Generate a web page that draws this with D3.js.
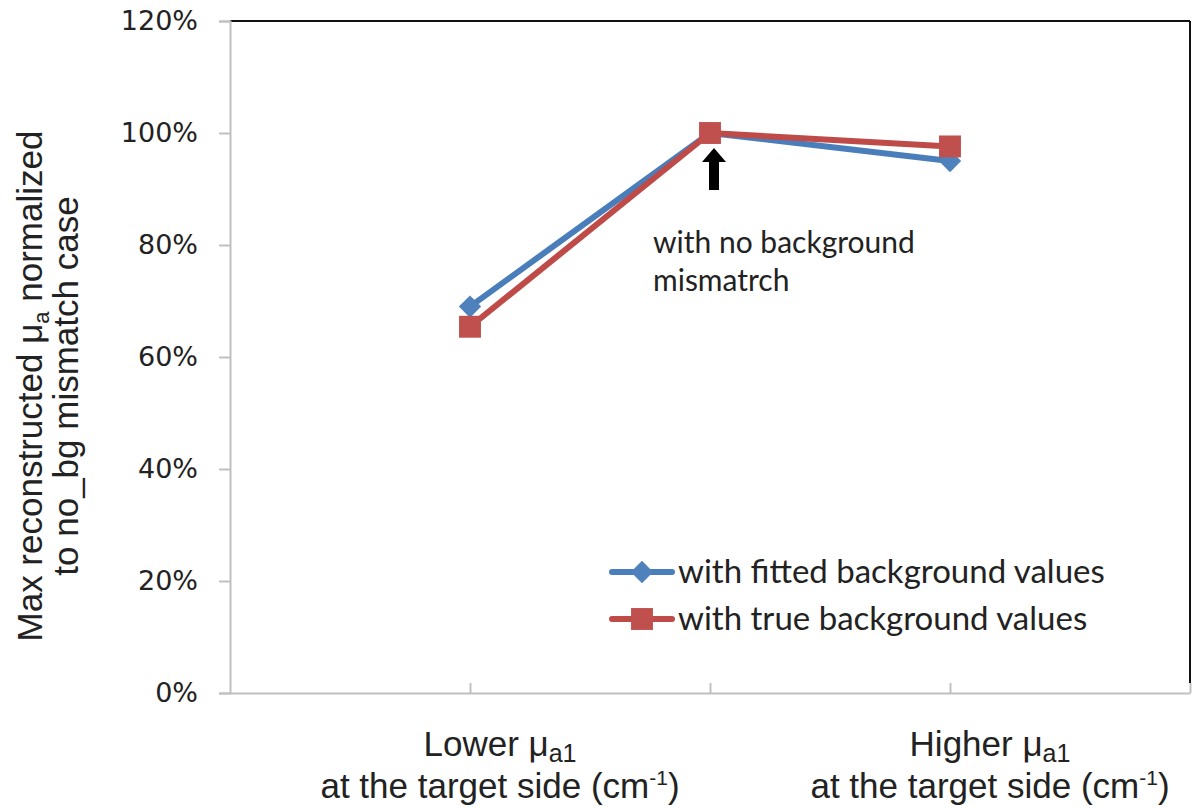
<!DOCTYPE html>
<html>
<head>
<meta charset="utf-8">
<script src="https://cdn.jsdelivr.net/npm/d3@7"></script>
<style>
  html, body { margin: 0; padding: 0; background: #fff; }
  svg { display: block; }
</style>
</head>
<body>
<div id="chart"></div>
<script>
// chart values
var categories = ["Lower", "", "Higher"];
var fitted = [0.69, 1.00, 0.95];
var trueVals = [0.654, 1.00, 0.976];
var seriesNames = ["with fitted background values", "with true background values"];
var yTicks = [0, 0.2, 0.4, 0.6, 0.8, 1.0, 1.2];

var W = 1196, H = 808;
var margin = { top: 21, right: 6, bottom: 115, left: 230 };

var svg = d3.select("#chart").append("svg")
  .attr("width", W).attr("height", H);

var x = d3.scaleLinear().domain([0, categories.length + 1])
  .range([margin.left, W - margin.right]);
var y = d3.scaleLinear().domain([0, 1.2])
  .range([H - margin.bottom, margin.top]);

// frame (top and right are dark)
svg.append("line")
  .attr("x1", x(0)).attr("x2", x(4)).attr("y1", y(1.2)).attr("y2", y(1.2))
  .attr("stroke", "#111").attr("stroke-width", 2);
svg.append("line")
  .attr("x1", x(4)).attr("x2", x(4)).attr("y1", y(1.2)).attr("y2", y(0) - 10)
  .attr("stroke", "#111").attr("stroke-width", 2);

// y axis
var yAxis = svg.append("g")
  .attr("transform", "translate(" + x(0) + ",0)")
  .call(d3.axisLeft(y).tickValues(yTicks).tickFormat(d3.format(".0%")).tickSize(11).tickPadding(21));
yAxis.select(".domain").attr("stroke", "#c0c0c0").attr("stroke-width", 2);
yAxis.selectAll(".tick line").attr("stroke", "#c0c0c0").attr("stroke-width", 2);
yAxis.selectAll("text")
  .attr("font-family", "DejaVu Sans, Verdana, sans-serif")
  .attr("font-size", 27).attr("fill", "#222");

// x axis
var xAxis = svg.append("g")
  .attr("transform", "translate(0," + y(0) + ")")
  .call(d3.axisTop(x).tickValues([1, 2, 3, 4]).tickFormat("").tickSize(10).tickSizeOuter(0));
xAxis.select(".domain").attr("stroke", "#c0c0c0").attr("stroke-width", 2);
xAxis.selectAll(".tick line").attr("stroke", "#c0c0c0").attr("stroke-width", 2);

// category labels (sit a little right of their tick, as in the original)
var catFont = "'Liberation Sans', Arial, sans-serif";
categories.forEach(function (c, i) {
  if (!c) return;
  var cx = x(i + 1) + 30 + 5 * i;
  var t1 = svg.append("text").attr("x", cx).attr("y", 756)
    .attr("text-anchor", "middle").attr("font-family", catFont)
    .attr("font-size", 35).attr("fill", "#222");
  t1.append("tspan").text(c + " \u03BC");
  t1.append("tspan").attr("font-size", 25).attr("dy", 6).text("a1");
  var t2 = svg.append("text").attr("x", cx).attr("y", 798)
    .attr("text-anchor", "middle").attr("font-family", catFont)
    .attr("font-size", 35).attr("fill", "#222");
  t2.append("tspan").text("at the target side (cm");
  t2.append("tspan").attr("font-size", 21).attr("dy", -13).text("-1");
  t2.append("tspan").attr("dy", 13).text(")");
});

// y axis title
var yt = svg.append("g").attr("transform", "translate(0,386) rotate(-90)");
var yl1 = yt.append("text").attr("x", 0).attr("y", 42)
  .attr("text-anchor", "middle").attr("font-family", catFont)
  .attr("font-size", 35).attr("fill", "#222");
yl1.append("tspan").text("Max reconstructed  \u03BC");
yl1.append("tspan").attr("font-size", 22).attr("dy", 7).text("a");
yl1.append("tspan").attr("dy", -7).text("  normalized");
yt.append("text").attr("x", 0).attr("y", 78)
  .attr("text-anchor", "middle").attr("font-family", catFont)
  .attr("font-size", 35).attr("fill", "#222")
  .text("to no_bg mismatch case");

// series
var series = [
  { name: seriesNames[0], values: fitted, line: "#4A7EBB", fill: "#4F81BD", shape: "diamond" },
  { name: seriesNames[1], values: trueVals, line: "#BE4B48", fill: "#C0504D", shape: "square" }
];

var line = d3.line()
  .x(function (d, i) { return x(i + 1); })
  .y(function (d) { return y(d); });

function marker(g, s) {
  if (s.shape === "diamond") {
    g.append("path").attr("d", d3.symbol(d3.symbolSquare, 250)())
      .attr("transform", "rotate(45)").attr("fill", s.fill);
  } else {
    g.append("path").attr("d", d3.symbol(d3.symbolSquare, 480)())
      .attr("fill", s.fill);
  }
}

series.forEach(function (s) {
  svg.append("path").datum(s.values)
    .attr("fill", "none").attr("stroke", s.line)
    .attr("stroke-width", 6).attr("stroke-linejoin", "round")
    .attr("d", line);
  s.values.forEach(function (v, i) {
    var g = svg.append("g").attr("transform", "translate(" + x(i + 1) + "," + y(v) + ")");
    marker(g, s);
  });
});

// arrow annotation
var ax = x(2) + 4, atip = y(1.0) + 15;
svg.append("path")
  .attr("d", "M" + ax + "," + atip + " L" + (ax + 12) + "," + (atip + 14) +
    " L" + (ax + 5) + "," + (atip + 14) + " L" + (ax + 5) + "," + (atip + 42) +
    " L" + (ax - 5) + "," + (atip + 42) + " L" + (ax - 5) + "," + (atip + 14) +
    " L" + (ax - 12) + "," + (atip + 14) + " Z")
  .attr("fill", "#000");

var noteFont = "Lato, 'Open Sans', sans-serif";
svg.append("text").attr("x", 653).attr("y", 253)
  .attr("font-family", noteFont).attr("font-size", 30).attr("fill", "#222")
  .text("with no background");
svg.append("text").attr("x", 653).attr("y", 291)
  .attr("font-family", noteFont).attr("font-size", 30).attr("fill", "#222")
  .text("mismatrch");

// legend
var legend = svg.append("g").attr("transform", "translate(612,572)");
series.forEach(function (s, i) {
  var g = legend.append("g").attr("transform", "translate(0," + (i * 47) + ")");
  g.append("line").attr("x1", 0).attr("x2", 60)
    .attr("stroke", s.line).attr("stroke-width", 6).attr("stroke-linecap", "round");
  var m = g.append("g").attr("transform", "translate(30,0)");
  marker(m, s);
  g.append("text").attr("x", 66).attr("y", 11)
    .attr("font-family", noteFont).attr("font-size", 33).attr("fill", "#222")
    .text(s.name);
});
</script>
</body>
</html>
